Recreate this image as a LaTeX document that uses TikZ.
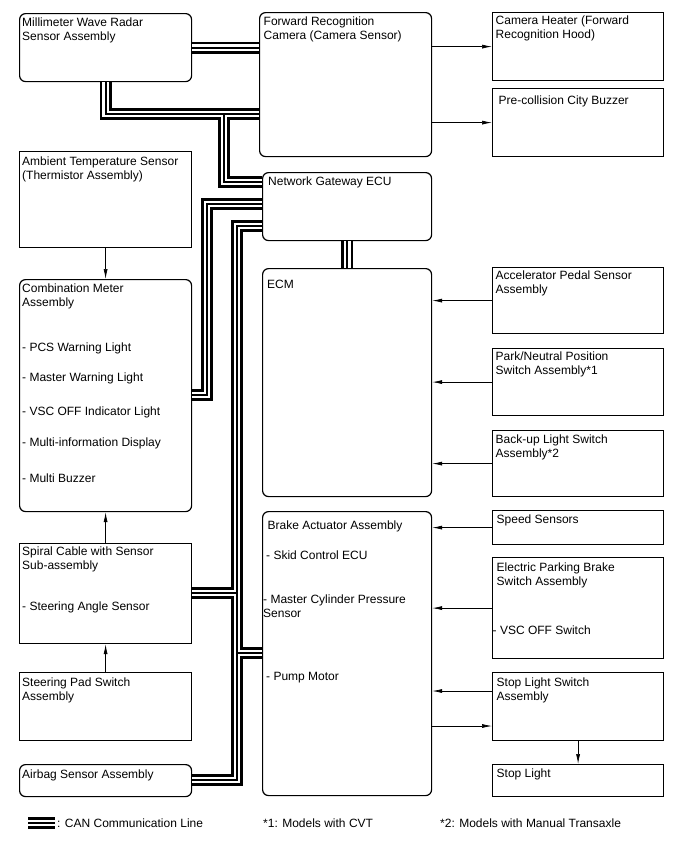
\documentclass[tikz,border=0pt]{standalone}
\usepackage{fontspec}
\setmainfont{Liberation Sans}
\usetikzlibrary{arrows.meta,calc,positioning}

\tikzset{
  box/.style={draw, line width=1.2pt, anchor=north west, inner sep=0pt},
  rbox/.style={box, rounded corners=6pt},
  txt/.style={anchor=north west, align=left, inner sep=0pt},
  sig/.style={-{Latex[length=10pt,width=4pt]}, line width=0.7pt},
  canouter/.style={line width=12pt},
  canwhite/.style={draw=white, line width=6.8pt},
  cancore/.style={line width=2.2pt},
}

\begin{document}
\begin{tikzpicture}[x=1pt, y=-1pt, font=\fontsize{12}{14}\selectfont]
  \useasboundingbox (0,0) rectangle (688,852);
  %
  % left column
  \node[rbox, minimum width=172, minimum height=68] (radar) at (19,13) {};
  \node[box, minimum width=172, minimum height=96] (ambient) at (19,151) {};
  \node[rbox, minimum width=172, minimum height=232] (meter) at (19,279) {};
  \node[box, minimum width=172, minimum height=100] (spiral) at (19,543) {};
  \node[box, minimum width=172, minimum height=68] (pad) at (19,672) {};
  \node[rbox, minimum width=172, minimum height=32] (airbag) at (19,764) {};
  %
  % middle column
  \node[rbox, minimum width=172, minimum height=144] (camera) at (259,12) {};
  \node[rbox, minimum width=169, minimum height=68] (gateway) at (262,172) {};
  \node[rbox, minimum width=169, minimum height=228] (ecm) at (262,268) {};
  \node[rbox, minimum width=169, minimum height=284] (brake) at (262,511) {};
  %
  % right column
  \node[box, minimum width=171, minimum height=68] (heater) at (492,12) {};
  \node[box, minimum width=171, minimum height=68] (buzzer) at (492,88) {};
  \node[box, minimum width=171, minimum height=66] (accel) at (492,267) {};
  \node[box, minimum width=171, minimum height=67] (park) at (492,348) {};
  \node[box, minimum width=171, minimum height=66] (backup) at (492,430) {};
  \node[box, minimum width=171, minimum height=34] (speed) at (492,510) {};
  \node[box, minimum width=171, minimum height=101] (epb) at (492,557) {};
  \node[box, minimum width=171, minimum height=68] (slsw) at (492,672) {};
  \node[box, minimum width=171, minimum height=32] (stop) at (492,764) {};
  %
  % Texts
  \node[txt] (radar-t) at ($(radar.north west)+(3,5)$) {Millimeter Wave Radar\\Sensor Assembly};
  \node[txt] (ambient-t) at ($(ambient.north west)+(3,5.5)$) {Ambient Temperature Sensor\\(Thermistor Assembly)};
  \node[txt] (meter-t) at ($(meter.north west)+(3,5)$) {Combination Meter\\Assembly};
  \node[txt] (meter-pcs) at ($(meter.north west)+(3,63.7)$) {- PCS Warning Light};
  \node[txt] (meter-mwl) at ($(meter.north west)+(3,93.7)$) {- Master Warning Light};
  \node[txt] (meter-vsc) at ($(meter.north west)+(3,127.7)$) {- VSC OFF Indicator Light};
  \node[txt] (meter-mid) at ($(meter.north west)+(3,158.7)$) {- Multi-information Display};
  \node[txt] (meter-buz) at ($(meter.north west)+(3,194.7)$) {- Multi Buzzer};
  \node[txt] (spiral-t) at ($(spiral.north west)+(3,4)$) {Spiral Cable with Sensor\\Sub-assembly};
  \node[txt] (spiral-sas) at ($(spiral.north west)+(3,58.7)$) {- Steering Angle Sensor};
  \node[txt] (pad-t) at ($(pad.north west)+(3,5.5)$) {Steering Pad Switch\\Assembly};
  \node[txt] (airbag-t) at ($(airbag.north west)+(3,5.5)$) {Airbag Sensor Assembly};
  %
  \node[txt] (camera-t) at ($(camera.north west)+(4.5,5)$) {Forward Recognition\\Camera (Camera Sensor)};
  \node[txt] (gateway-t) at ($(gateway.north west)+(6,4.5)$) {Network Gateway ECU};
  \node[txt] (ecm-t) at ($(ecm.north west)+(5,11.5)$) {ECM};
  \node[txt] (brake-t) at ($(brake.north west)+(5.5,9.5)$) {Brake Actuator Assembly};
  \node[txt] (brake-skid) at ($(brake.north west)+(4,39.7)$) {- Skid Control ECU};
  \node[txt] (brake-mcp) at ($(brake.north west)+(1,83.7)$) {- Master Cylinder Pressure\\Sensor};
  \node[txt] (brake-pump) at ($(brake.north west)+(4,160.7)$) {- Pump Motor};
  %
  \node[txt] (heater-t) at ($(heater.north west)+(3.5,3.5)$) {Camera Heater (Forward\\Recognition Hood)};
  \node[txt] (buzzer-t) at ($(buzzer.north west)+(6.5,7.5)$) {Pre-collision City Buzzer};
  \node[txt] (accel-t) at ($(accel.north west)+(3.5,4)$) {Accelerator Pedal Sensor\\Assembly};
  \node[txt] (park-t) at ($(park.north west)+(3.5,4)$) {Park/Neutral Position\\Switch Assembly*1};
  \node[txt] (backup-t) at ($(backup.north west)+(3.5,4.5)$) {Back-up Light Switch\\Assembly*2};
  \node[txt] (speed-t) at ($(speed.north west)+(4.5,5)$) {Speed Sensors};
  \node[txt] (epb-t) at ($(epb.north west)+(4.5,6)$) {Electric Parking Brake\\Switch Assembly};
  \node[txt] (epb-vsc) at ($(epb.north west)+(0.5,69)$) {- VSC OFF Switch};
  \node[txt] (slsw-t) at ($(slsw.north west)+(4.5,6)$) {Stop Light Switch\\Assembly};
  \node[txt] (stop-t) at ($(stop.north west)+(4.5,5)$) {Stop Light};
  %
  % signal lines
  \draw[sig] (camera.east |- heater.west) -- (heater.west);
  \draw[sig] (camera.east |- buzzer.west) -- (buzzer.west);
  \draw[sig] (ambient.south) -- (meter.north);
  \draw[sig] (spiral.north) -- (meter.south);
  \draw[sig] (pad.north) -- (spiral.south);
  \draw[sig] (accel.west) -- (ecm.east |- accel.west);
  \draw[sig] (park.west) -- (ecm.east |- park.west);
  \draw[sig] (backup.west) -- (ecm.east |- backup.west);
  \draw[sig] (speed.west) -- (brake.east |- speed.west);
  \draw[sig] (epb.west) -- (brake.east |- epb.west);
  \coordinate (slIn) at ($(slsw.north west)+(0,19)$);
  \coordinate (slOut) at ($(slsw.north west)+(0,54)$);
  \draw[sig] (slIn) -- (brake.east |- slIn);
  \draw[sig] (brake.east |- slOut) -- (slOut);
  \draw[sig] (slsw.south) -- (stop.north);
  %
  % CAN bus
  \coordinate (jB) at (224,114);
  \coordinate (cBend) at (224,182);
  \coordinate (dTop) at (207,204);
  \coordinate (dBot) at (207,395);
  \coordinate (eTop) at (237,226);
  \coordinate (eSpiral) at (237,593);
  \coordinate (eBrake) at (237,653);
  \coordinate (eBot) at (237,780);
  \foreach \lay in {canouter,canwhite,cancore}
    \draw[\lay] (radar.east) -- (radar.east -| camera.west)
      (radar.south) |- (camera.west |- jB)
      (jB) -- (cBend) -- (gateway.west |- cBend)
      (gateway.west |- dTop) -- (dTop) -- (dBot) -- (meter.east |- dBot)
      (gateway.west |- eTop) -- (eTop) -- (eBot) -- (airbag.east |- eBot)
      (eSpiral) -- (spiral.east |- eSpiral)
      (eBrake) -- (brake.west |- eBrake)
      (gateway.south) -- (ecm.north);
  %
  % legend
  \coordinate (legA) at (28,823);
  \coordinate (legB) at (55,823);
  \foreach \lay in {canouter,canwhite,cancore}
    \draw[\lay] (legA) -- (legB);
  \node[txt] (leg-can) at (57,818.5) {: CAN Communication Line};
  \node[txt] (leg-cvt) at (263,818.5) {*1: Models with CVT};
  \node[txt] (leg-mt) at (440,818.5) {*2: Models with Manual Transaxle};
\end{tikzpicture}
\end{document}
